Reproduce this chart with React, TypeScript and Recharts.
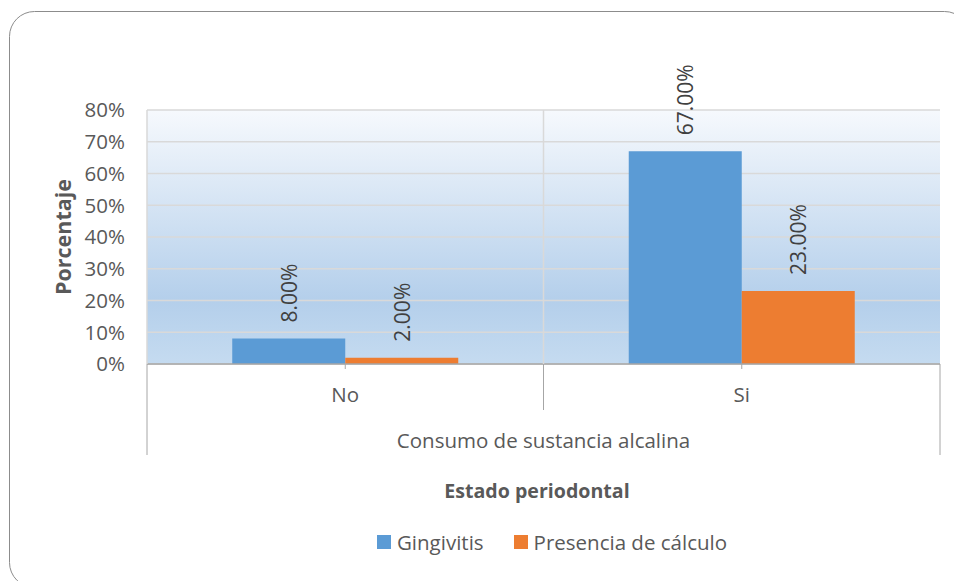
import { BarChart, Bar, XAxis, YAxis, CartesianGrid, LabelList, Label, Legend } from "recharts";

const categories = ["No", "Si"];
const gingivitis = [8, 67];
const calculo = [2, 23];
const yTicks = [0, 10, 20, 30, 40, 50, 60, 70, 80];

const data = categories.map((c, i) => ({ cat: c, gingivitis: gingivitis[i], calculo: calculo[i] }));

const W = 954;
const H = 581;
const X_H = 100;
const LEG_H = 90;
const M = { top: 110, right: 14, bottom: 27, left: 57 };
const Y_W = 90;
const PLOT_W = W - M.left - Y_W - M.right;
const PLOT_H = H - M.top - M.bottom - X_H - LEG_H;
const HALF_BAND = PLOT_W / categories.length / 2;

const FONT = "'Open Sans', sans-serif";
const TXT = "#595959";
const FS = 20.5;

const CatTick = (props: any) => {
  const { x, y, payload, index } = props;
  const left = x - HALF_BAND;
  const right = x + HALF_BAND;
  return (
    <g>
      <line x1={x} y1={y} x2={x} y2={y + 5} stroke="#a6a6a6" />
      {index === 0 && <line x1={left} y1={y} x2={left} y2={y + 91} stroke="#a6a6a6" />}
      {index === categories.length - 1 ? (
        <line x1={right} y1={y} x2={right} y2={y + 91} stroke="#a6a6a6" />
      ) : (
        <>
          <line x1={right} y1={y} x2={right} y2={y + 46} stroke="#a6a6a6" />
          <line x1={right} y1={y - PLOT_H} x2={right} y2={y} stroke="#d9d9d9" strokeWidth={1.5} />
        </>
      )}
      <text x={x} y={y + 30} textAnchor="middle" dominantBaseline="central" fill={TXT} fontSize={FS} fontFamily={FONT}>
        {payload.value}
      </text>
    </g>
  );
};

const VLabel = (props: any) => {
  const { x, y, width, value } = props;
  const cx = x + width / 2;
  const cy = y - 16;
  return (
    <text
      x={cx}
      y={cy}
      transform={`rotate(-90 ${cx} ${cy})`}
      textAnchor="start"
      dominantBaseline="central"
      fill="#404040"
      fontSize={21}
      fontFamily={FONT}
    >
      {`${Number(value).toFixed(2)}%`}
    </text>
  );
};

const legendItems = [
  { name: "Gingivitis", color: "#5b9bd5" },
  { name: "Presencia de cálculo", color: "#ed7d31" },
];

const LegendBox = () => (
  <div style={{ height: LEG_H, width: W, fontFamily: FONT, color: TXT, textAlign: "center" }}>
    <div style={{ fontSize: 19.6, fontWeight: 700, lineHeight: "26px", paddingLeft: 120 }}>Estado periodontal</div>
    <div
      style={{
        display: "flex",
        justifyContent: "center",
        gap: 30,
        marginTop: 24,
        paddingLeft: 150,
        fontSize: FS,
        lineHeight: "28px",
      }}
    >
      {legendItems.map((it) => (
        <span key={it.name} style={{ display: "flex", alignItems: "center", gap: 6 }}>
          <span style={{ width: 14, height: 14, background: it.color, display: "inline-block" }} />
          {it.name}
        </span>
      ))}
    </div>
  </div>
);

export default function App() {
  return (
    <div style={{ position: "absolute", left: 0, top: 0, width: W, height: H, background: "#fff", overflow: "hidden" }}>
      <svg width={W} height={H} style={{ position: "absolute", left: 0, top: 0 }}>
        <rect x={9.5} y={11.5} width={960} height={576} rx={25} ry={25} fill="none" stroke="#8c8c8c" />
      </svg>
      <div style={{ position: "absolute", left: 0, top: 0 }}>
        <BarChart width={W} height={H} data={data} margin={M} barGap={0} barCategoryGap="21.5%">
          <defs>
            <linearGradient id="plotBg" x1="0" y1="0" x2="0" y2="1">
              <stop offset="0%" stopColor="#f6f9fd" />
              <stop offset="75%" stopColor="#b4cfeb" />
              <stop offset="100%" stopColor="#c5dbf0" />
            </linearGradient>
          </defs>
          <CartesianGrid fill="url(#plotBg)" stroke="#d9d9d9" strokeWidth={1.5} vertical={false} />
          <XAxis
            dataKey="cat"
            height={X_H}
            axisLine={{ stroke: "#a6a6a6", strokeWidth: 1.5 }}
            tickLine={false}
            tickSize={0}
            tickMargin={0}
            tick={<CatTick />}
            interval={0}
          >
            <Label
              content={(p: any) => {
                const vb = p.viewBox;
                return (
                  <text
                    x={vb.x + vb.width / 2}
                    y={vb.y + 76}
                    textAnchor="middle"
                    dominantBaseline="central"
                    fill={TXT}
                    fontSize={FS}
                    fontFamily={FONT}
                  >
                    Consumo de sustancia alcalina
                  </text>
                );
              }}
            />
          </XAxis>
          <YAxis
            width={Y_W}
            domain={[0, 80]}
            ticks={yTicks}
            interval={0}
            tickFormatter={(v) => `${v}%`}
            axisLine={{ stroke: "#d9d9d9", strokeWidth: 1.5 }}
            tickLine={false}
            tickSize={0}
            tickMargin={22}
            tick={{ fill: TXT, fontSize: FS, fontFamily: FONT }}
          >
            <Label
              content={(p: any) => {
                const vb = p.viewBox;
                const cx = 62;
                const cy = vb.y + vb.height / 2;
                return (
                  <text
                    x={cx}
                    y={cy}
                    transform={`rotate(-90 ${cx} ${cy})`}
                    textAnchor="middle"
                    dominantBaseline="central"
                    fill={TXT}
                    fontSize={21.5}
                    fontWeight={700}
                    fontFamily={FONT}
                  >
                    Porcentaje
                  </text>
                );
              }}
            />
          </YAxis>
          <Legend content={<LegendBox />} wrapperStyle={{ position: "absolute", top: 478, left: 0, width: W }} />
          <Bar dataKey="gingivitis" name="Gingivitis" fill="#5b9bd5" isAnimationActive={false}>
            <LabelList dataKey="gingivitis" content={<VLabel />} />
          </Bar>
          <Bar dataKey="calculo" name="Presencia de cálculo" fill="#ed7d31" isAnimationActive={false}>
            <LabelList dataKey="calculo" content={<VLabel />} />
          </Bar>
        </BarChart>
      </div>
    </div>
  );
}
